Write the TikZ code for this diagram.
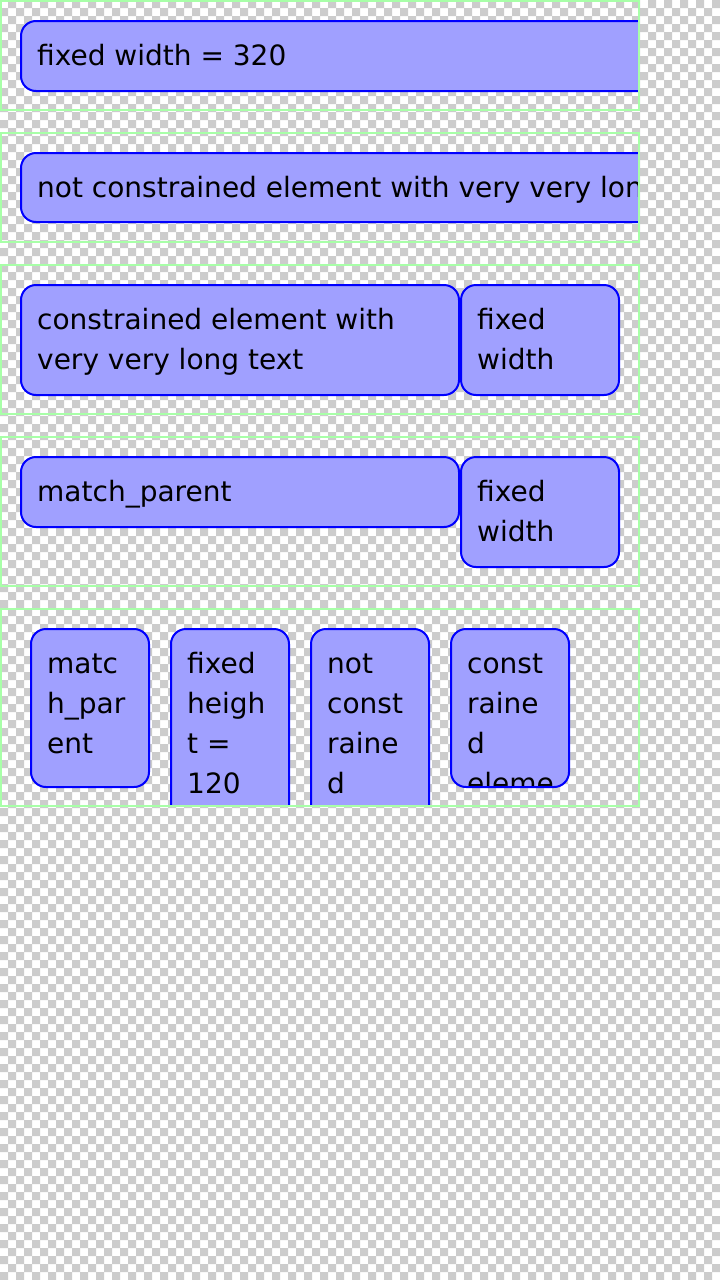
\documentclass[tikz,border=0pt]{standalone}
\usepackage{fontspec}
\setmainfont{DejaVu Sans}
\definecolor{checkgray}{RGB}{204,204,204}
\definecolor{framegreen}{RGB}{168,255,168}
\definecolor{boxfill}{RGB}{160,160,255}
\definecolor{boxline}{RGB}{0,0,255}
\tikzset{
  frame/.style={draw=framegreen, line width=2pt},
  uibox/.style={fill=boxfill, draw=boxline, line width=2pt, rounded corners=15pt},
  lbl/.style={inner sep=0pt, anchor=base west, text=black,
    font=\fontsize{28}{40}\selectfont},
}
% box: name, left, top, width, height, lines (as \hbox{..}\hbox{..})
\newcommand\uibox[6]{%
  \path[uibox, draw=none] (#2,#3) rectangle ++(#4,#5);
  \begin{scope}
    \clip[rounded corners=15pt] (#2,#3) rectangle ++(#4,#5);
    \node[lbl] (#1) at ({#2+16},{#3+44}) {\vtop{\baselineskip=40pt\lineskiplimit=-100pt #6}};
  \end{scope}
  \path[uibox, fill=none] (#2,#3) rectangle ++(#4,#5);
}
\begin{document}
\begin{tikzpicture}[x=1pt, y=-1pt]
\useasboundingbox (0,0) rectangle (720,1280);

% checkerboard backdrop, 8px cells
\fill[white] (0,0) rectangle (720,1280);
\foreach \i in {0,...,159}{
  \pgfmathtruncatemacro\xs{8*mod(\i+1,2)}
  \fill[checkgray] \foreach \j in {0,...,44}{ ({\xs+16*\j},{8*\i}) rectangle ++(8,8) };
}

% row 1: fixed width
\begin{scope}
  \clip (1,1) rectangle (639,110);
  \uibox{t1}{21}{21}{700}{70}{\hbox{fixed width = 320}}
\end{scope}
\draw[frame] (1,1) rectangle (639,110);

% row 2: unconstrained long text
\begin{scope}
  \clip (1,133) rectangle (639,242);
  \uibox{t2}{21}{153}{900}{69}{\hbox{not constrained element with very very long text}}
\end{scope}
\draw[frame] (1,133) rectangle (639,242);

% row 3: constrained text beside a fixed-width box
\begin{scope}
  \clip (1,265) rectangle (639,414);
  \uibox{t3}{21}{285}{438}{110}{\hbox{constrained element with}\hbox{very very long text}}
  \uibox{t4}{461}{285}{158}{110}{\hbox{fixed}\hbox{width}}
\end{scope}
\draw[frame] (1,265) rectangle (639,414);

% row 4: match_parent beside a fixed-width box
\begin{scope}
  \clip (1,437) rectangle (639,586);
  \uibox{t5}{21}{457}{438}{70}{\hbox{match\_parent}}
  \uibox{t6}{461}{457}{158}{110}{\hbox{fixed}\hbox{width}}
\end{scope}
\draw[frame] (1,437) rectangle (639,586);

% row 5: narrow columns
\begin{scope}
  \clip (1,609) rectangle (639,806);
  \uibox{t7}{31}{629}{118}{158}{\hbox{matc}\hbox{h\_par}\hbox{ent}}
  \uibox{t8}{171}{629}{118}{240}{\hbox{fixed}\hbox{heigh}\hbox{t =}\hbox{120}}
  \uibox{t9}{311}{629}{118}{240}{\hbox{not}\hbox{const}\hbox{raine}\hbox{d}\hbox{eleme}}
  \uibox{t10}{451}{629}{118}{158}{\hbox{const}\hbox{raine}\hbox{d}\hbox{eleme}}
\end{scope}
\draw[frame] (1,609) rectangle (639,806);
\end{tikzpicture}
\end{document}
